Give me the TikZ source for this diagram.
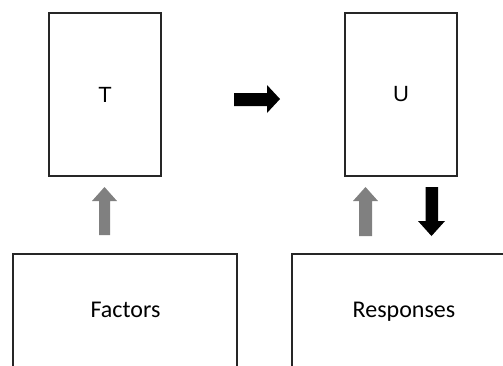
\documentclass[tikz,border=0pt]{standalone}
\usepackage{fontspec}
\setmainfont{Carlito}
\newfontfamily\arialf{Liberation Sans}
\begin{document}
\begin{tikzpicture}[x=1pt,y=-1pt,
  boxline/.style={draw=black!85,line width=1.2pt},
  tall/.style={boxline,minimum width=112pt,minimum height=163pt,inner sep=0pt,font=\arialf\fontsize{22}{26}\selectfont},
  lbl/.style={font=\fontsize{24}{28}\selectfont,anchor=base,inner sep=0pt},
  grayarrow/.style={fill=black!50,draw=none},
  blackarrow/.style={fill=black,draw=none}]
\useasboundingbox (0,0) rectangle (503,365);
\clip (0,0) rectangle (503,365);
\fill[white] (0,0) rectangle (503,365);
% upper boxes
\node[tall] (T) at (105,94.5) {T};
\node[tall] (U) at (401,94.5) {U};
% lower boxes (run off the page)
\node[lbl] (F) at (125.5,317) {Factors};
\node[lbl] (R) at (404,317) {Responses};
\draw[boxline] (13,370) -- (13,254) -- (237,254) -- (237,370);
\draw[boxline] (292,370) -- (292,254) -- (510,254);
% right block arrow T -> U
\fill[blackarrow] (234,93) -- (267,93) -- (267,85) -- (280,99) -- (267,113) -- (267,106) -- (234,106) -- cycle;
% gray up arrow Factors -> T
\fill[grayarrow] (99,235) -- (99,201) -- (92,201) -- (104.5,187) -- (117,201) -- (110,201) -- (110,235) -- cycle;
% gray up arrow Responses -> U
\fill[grayarrow] (359,236) -- (359,201) -- (353,201) -- (365.5,187) -- (378,201) -- (372,201) -- (372,236) -- cycle;
% black down arrow U -> Responses
\fill[blackarrow] (425.5,187) -- (438,187) -- (438,221) -- (445,221) -- (431.5,236) -- (418,221) -- (425.5,221) -- cycle;
\end{tikzpicture}
\end{document}
